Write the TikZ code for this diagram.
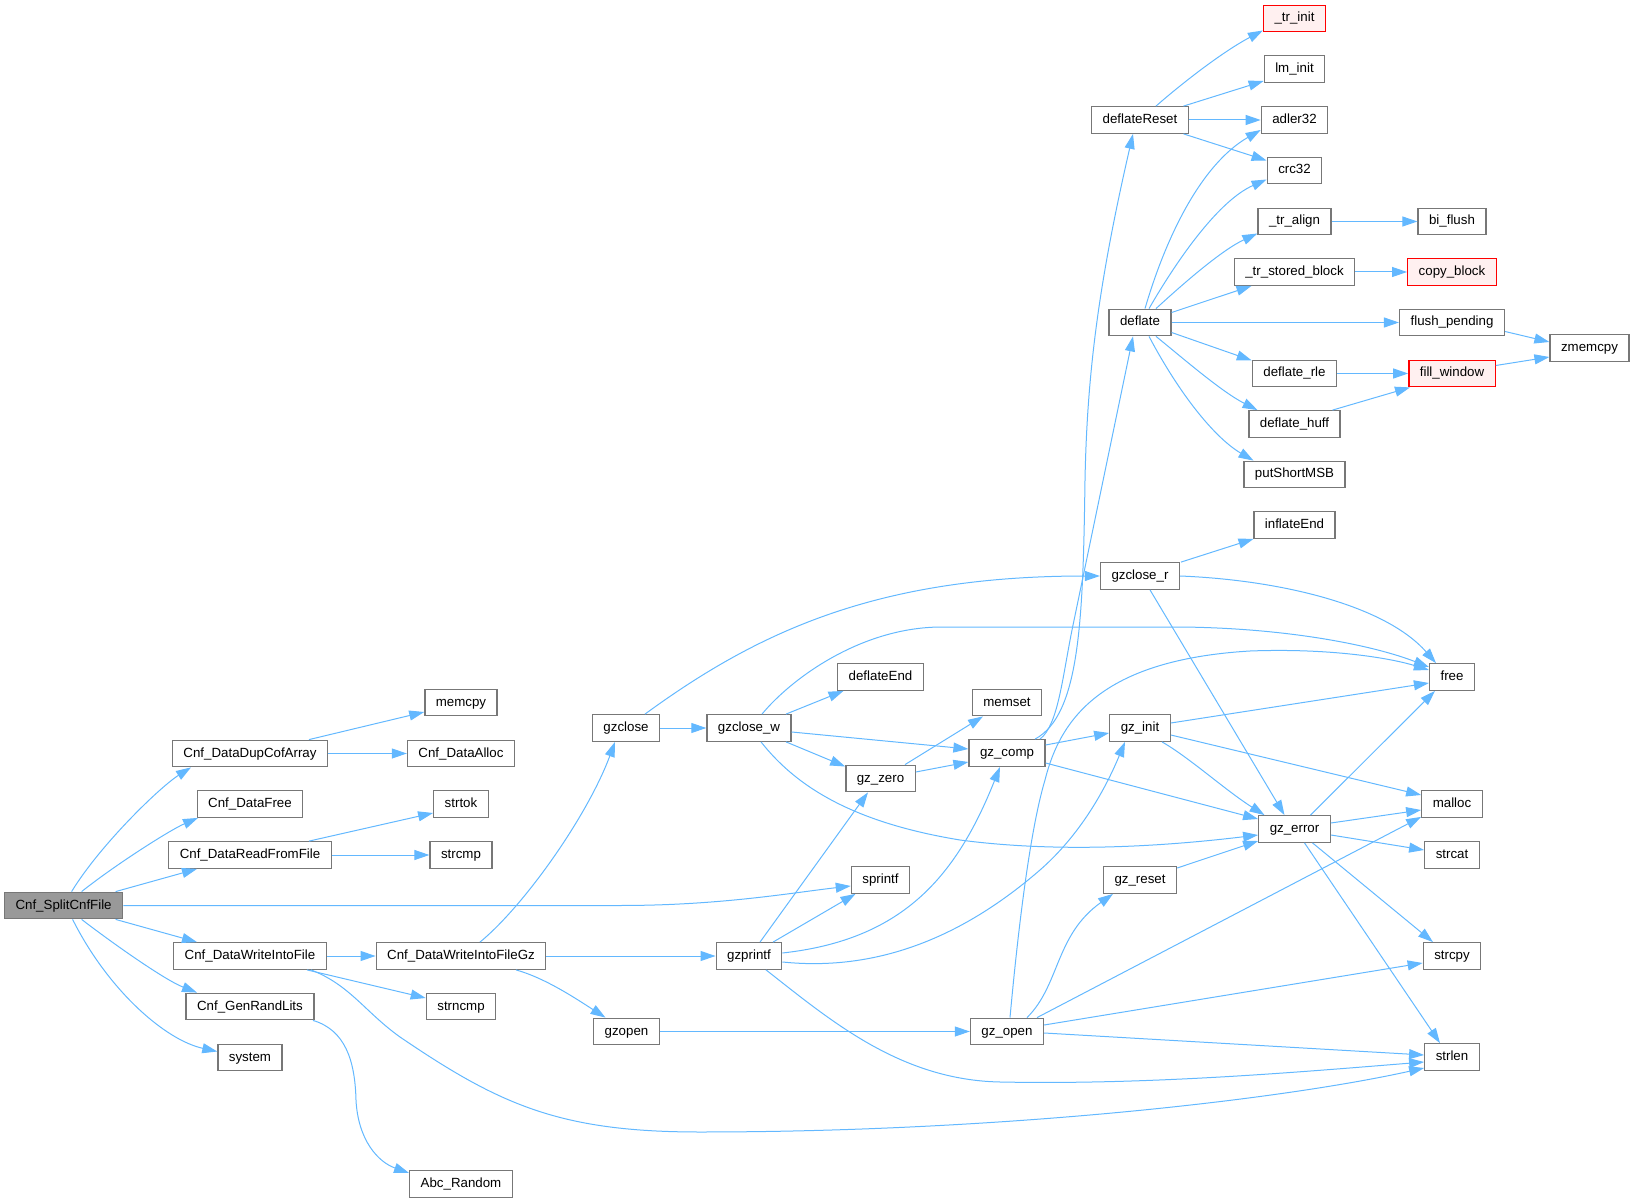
\documentclass[tikz,border=0pt]{standalone}
\usepackage{fontspec}
\setmainfont{Liberation Sans}
\usetikzlibrary{arrows.meta,calc}
\definecolor{edgec}{HTML}{63B8FF}
\definecolor{boxc}{HTML}{777777}
\definecolor{rootc}{HTML}{999999}
\definecolor{redfill}{HTML}{FFF0F0}
\tikzset{
  fn/.style={draw=boxc, line width=0.65pt, fill=white, inner xsep=5.5pt, inner ysep=0pt,
    minimum height=13.25pt, text height=4.9pt, text depth=1.4pt, font=\fontsize{6.65}{8}\selectfont},
  rootfn/.style={fn, fill=rootc},
  redfn/.style={fn, draw=red, fill=redfill},
  calls/.style={draw=edgec, line width=0.5pt, -{Triangle[length=7.5pt,width=5pt]}}
}
\begin{document}
\begin{tikzpicture}[x=0.5pt,y=-0.5pt]
\useasboundingbox (0,0) rectangle (1634,1203);
% nodes
\node[rootfn] (root) at (63.6,905.5) {Cnf\_SplitCnfFile};
\node[fn] (dup) at (250,753.5) {Cnf\_DataDupCofArray};
\node[fn] (free1) at (250,804) {Cnf\_DataFree};
\node[fn] (read) at (250,855) {Cnf\_DataReadFromFile};
\node[fn] (wif) at (250,956) {Cnf\_DataWriteIntoFile};
\node[fn] (grl) at (250,1006.5) {Cnf\_GenRandLits};
\node[fn] (system) at (250,1057.5) {system};
\node[fn] (memcpy) at (461,702.5) {memcpy};
\node[fn] (alloc) at (461,753.5) {Cnf\_DataAlloc};
\node[fn] (strtok) at (461,804) {strtok};
\node[fn] (strcmp) at (461,855) {strcmp};
\node[fn] (wifgz) at (461,956) {Cnf\_DataWriteIntoFileGz};
\node[fn] (strncmp) at (461,1006.5) {strncmp};
\node[fn] (abcrand) at (461,1184) {Abc\_Random};
\node[fn] (gzclose) at (626,728) {gzclose};
\node[fn] (gzopen) at (626.5,1031.5) {gzopen};
\node[fn] (gzclosew) at (749,728) {gzclose\_w};
\node[fn] (gzprintf) at (749,956) {gzprintf};
\node[fn] (deflateEnd) at (880.5,677) {deflateEnd};
\node[fn] (gzzero) at (880.5,778.5) {gz\_zero};
\node[fn] (sprintf) at (880.5,880) {sprintf};
\node[fn] (memset) at (1007,702.5) {memset};
\node[fn] (gzcomp) at (1007,753) {gz\_comp};
\node[fn] (gzopentwo) at (1007,1031.5) {gz\_open};
\node[fn] (deflateReset) at (1140,120) {deflateReset};
\node[fn] (deflate) at (1140,322.5) {deflate};
\node[fn] (gzcloser) at (1140,576) {gzclose\_r};
\node[fn] (gzinit) at (1140,728) {gz\_init};
\node[fn] (gzreset) at (1140,880) {gz\_reset};
\node[redfn] (trinit) at (1294.5,18.5) {\_tr\_init};
\node[fn] (lminit) at (1294.5,69) {lm\_init};
\node[fn] (adler) at (1294.5,120) {adler32};
\node[fn] (crc) at (1294.5,170.5) {crc32};
\node[fn] (tralign) at (1294.5,221.5) {\_tr\_align};
\node[fn] (trstored) at (1294.5,272) {\_tr\_stored\_block};
\node[fn] (deflaterle) at (1294.5,373.5) {deflate\_rle};
\node[fn] (deflatehuff) at (1294.5,424) {deflate\_huff};
\node[fn] (putshort) at (1294.5,474.5) {putShortMSB};
\node[fn] (inflateEnd) at (1294.5,525) {inflateEnd};
\node[fn] (gzerror) at (1294.5,829) {gz\_error};
\node[fn] (biflush) at (1452,221.5) {bi\_flush};
\node[redfn] (copyblock) at (1452,272) {copy\_block};
\node[fn] (flushpending) at (1452,322.5) {flush\_pending};
\node[redfn] (fillwindow) at (1452,373.5) {fill\_window};
\node[fn] (nfree) at (1452,677) {free};
\node[fn] (malloc) at (1452,804) {malloc};
\node[fn] (strcat) at (1452,855) {strcat};
\node[fn] (strcpy) at (1452,956) {strcpy};
\node[fn] (strlen) at (1452,1057) {strlen};
\node[fn] (zmemcpy) at (1589.5,348) {zmemcpy};
% edges from root
\draw[calls] ($(root.north)+(8,0)$) .. controls (100,845) and (160,787) .. ($(dup.south)+(-59,0)$);
\draw[calls] ($(root.north)+(18,0)$) .. controls (115,865) and (170,830) .. ($(free1.south)+(-52,0)$);
\draw[calls] ($(root.north)+(52,0)$) -- ($(read.south)+(-53,0)$);
\draw[calls] (root.east) -- (620,905.5) .. controls (720,905.5) and (790,893) .. ($(sprintf.west)+(0,6)$);
\draw[calls] ($(root.south)+(52,0)$) -- ($(wif.north)+(-53,0)$);
\draw[calls] ($(root.south)+(18,0)$) .. controls (115,945) and (165,980) .. ($(grl.north)+(-53,0)$);
\draw[calls] ($(root.south)+(9,0)$) .. controls (108,990) and (165,1040) .. ($(system.west)+(0,-6)$);
% second column
\draw[calls] ($(dup.north)+(59,0)$) -- ($(memcpy.west)+(0,9.5)$);
\draw[calls] (dup.east) -- (alloc.west);
\draw[calls] ($(read.north)+(59,0)$) -- ($(strtok.west)+(0,9)$);
\draw[calls] (read.east) -- (strcmp.west);
\draw[calls] (wif.east) -- (wifgz.west);
\draw[calls] ($(wif.south)+(57,0)$) -- ($(strncmp.west)+(0,-8.5)$);
\draw[calls] ($(wif.south)+(61,0)$) .. controls (350,985) and (365,1012) .. (400,1037)
  .. controls (500,1105) and (560,1132) .. (700,1132)
  .. controls (1000,1132) and (1280,1100) .. ($(strlen.west)+(0,11)$);
\draw[calls] ($(grl.south)+(63,0)$) .. controls (345,1030) and (355,1060) .. (356,1100)
  .. controls (358,1140) and (378,1162) .. ($(abcrand.west)+(0,-11)$);
% Cnf_DataWriteIntoFileGz
\draw[calls] ($(wifgz.north)+(19,0)$) .. controls (525,905) and (588,815) .. ($(gzclose.south)+(-11,0)$);
\draw[calls] (wifgz.east) -- (gzprintf.west);
\draw[calls] ($(wifgz.south)+(55,0)$) .. controls (545,978) and (575,998) .. ($(gzopen.north)+(-21,0)$);
% gzclose
\draw[calls] (gzclose.east) -- (gzclosew.west);
\draw[calls] ($(gzclose.north)+(19,0)$) .. controls (760,630) and (880,576) .. (gzcloser.west);
% gzclose_w
\draw[calls] ($(gzclosew.north)+(37,0)$) -- ($(deflateEnd.south)+(-37,0)$);
\draw[calls] ($(gzclosew.east)+(0,4)$) -- ($(gzcomp.west)+(0,-4)$);
\draw[calls] ($(gzclosew.south)+(37,0)$) -- ($(gzzero.west)+(0,-12)$);
\draw[calls] ($(gzclosew.north)+(13,0)$) .. controls (790,680) and (860,627) .. (942,627)
  -- (1180,627) .. controls (1290,628) and (1375,646) .. ($(nfree.west)+(0,-10)$);
\draw[calls] ($(gzclosew.south)+(12,0)$) .. controls (795,785) and (850,822) .. (960,840)
  .. controls (1050,852) and (1150,848) .. ($(gzerror.west)+(0,6)$);
% gz_zero
\draw[calls] ($(gzzero.north)+(24.5,0)$) -- ($(memset.south)+(-24,0)$);
\draw[calls] ($(gzzero.east)+(0,-6.5)$) -- ($(gzcomp.west)+(0,9)$);
% gz_comp
\draw[calls] ($(gzcomp.north)+(28,0)$) .. controls (1080,715) and (1083,620) .. (1085,480)
  .. controls (1087,380) and (1097,290) .. ($(deflateReset.south)+(-7,0)$);
\draw[calls] ($(gzcomp.north)+(33,0)$) .. controls (1058,725) and (1062,680) .. (1072,630)
  -- ($(deflate.south)+(-7,0)$);
\draw[calls] ($(gzcomp.east)+(0,-8)$) -- ($(gzinit.west)+(0,5)$);
\draw[calls] ($(gzcomp.east)+(0,10)$) -- ($(gzerror.west)+(0,-10)$);
% gzprintf
\draw[calls] ($(gzprintf.north)+(11,0)$) -- ($(gzzero.south)+(-12.5,0)$);
\draw[calls] ($(gzprintf.north)+(24,0)$) -- ($(sprintf.south)+(-25,0)$);
\draw[calls] ($(gzprintf.east)+(0,-3)$) .. controls (900,940) and (955,880) .. ($(gzcomp.south)+(-7,0)$);
\draw[calls] ($(gzprintf.east)+(0,6)$) .. controls (880,972) and (965,935) .. (1040,870)
  .. controls (1080,835) and (1105,790) .. ($(gzinit.south)+(-15,0)$);
\draw[calls] ($(gzprintf.south)+(17,0)$) .. controls (830,1020) and (900,1080) .. (1000,1082)
  .. controls (1150,1085) and (1300,1072) .. ($(strlen.west)+(0,5)$);
% gzopen / gz_open
\draw[calls] (gzopen.east) -- (gzopentwo.west);
\draw[calls] ($(gzopentwo.north)+(3,0)$) .. controls (1018,930) and (1030,830) .. (1045,780)
  .. controls (1060,720) and (1100,660) .. (1250,651)
  .. controls (1330,648) and (1390,658) .. ($(nfree.west)+(0,-7)$);
\draw[calls] ($(gzopentwo.north)+(20,0)$) .. controls (1060,985) and (1055,935) .. ($(gzreset.south)+(-27,0)$);
\draw[calls] ($(gzopentwo.north)+(30,0)$) -- ($(malloc.south west)+(0,-1)$);
\draw[calls] ($(gzopentwo.east)+(0,-6.5)$) -- ($(strcpy.west)+(0,7)$);
\draw[calls] ($(gzopentwo.east)+(0,1.5)$) -- ($(strlen.west)+(0,-2)$);
% gz_reset, gz_init, gzclose_r
\draw[calls] ($(gzreset.east)+(0,-12)$) -- ($(gzerror.west)+(0,12)$);
\draw[calls] ($(gzinit.east)+(0,-5)$) -- ($(nfree.west)+(0,6)$);
\draw[calls] ($(gzinit.east)+(0,7)$) -- ($(malloc.west)+(0,-9)$);
\draw[calls] ($(gzinit.south)+(22,0)$) .. controls (1190,758) and (1225,790) .. ($(gzerror.north)+(-30,0)$);
\draw[calls] ($(gzcloser.north)+(41,0)$) -- ($(inflateEnd.south)+(-41,0)$);
\draw[calls] (gzcloser.east) .. controls (1280,580) and (1385,605) .. ($(nfree.north)+(-16,0)$);
\draw[calls] ($(gzcloser.south)+(10,0)$) -- ($(gzerror.north)+(-10,0)$);
% gz_error
\draw[calls] ($(gzerror.north)+(16,0)$) -- ($(nfree.south)+(-17,0)$);
\draw[calls] ($(gzerror.east)+(0,-6)$) -- ($(malloc.west)+(0,6)$);
\draw[calls] ($(gzerror.east)+(0,6)$) -- ($(strcat.west)+(0,-5)$);
\draw[calls] ($(gzerror.south)+(18,0)$) -- ($(strcpy.north)+(-19,0)$);
\draw[calls] ($(gzerror.south)+(10,0)$) -- ($(strlen.north)+(-12,0)$);
% deflateReset
\draw[calls] ($(deflateReset.north)+(16,0)$) .. controls (1180,85) and (1222,52) .. ($(trinit.west)+(0,12)$);
\draw[calls] ($(deflateReset.north)+(43.5,0)$) -- ($(lminit.west)+(0,12)$);
\draw[calls] (deflateReset.east) -- (adler.west);
\draw[calls] ($(deflateReset.south)+(43.5,0)$) -- ($(crc.west)+(0,-10)$);
% deflate
\draw[calls] ($(deflate.north)+(5,0)$) .. controls (1165,240) and (1200,165) .. ($(adler.west)+(0,10)$);
\draw[calls] ($(deflate.north)+(9,0)$) .. controls (1180,255) and (1220,200) .. ($(crc.west)+(0,9)$);
\draw[calls] ($(deflate.north)+(16,0)$) .. controls (1185,282) and (1222,250) .. ($(tralign.west)+(0,12)$);
\draw[calls] ($(deflate.east)+(0,-10)$) -- ($(trstored.south)+(-43,0)$);
\draw[calls] (deflate.east) -- (flushpending.west);
\draw[calls] ($(deflate.east)+(0,10)$) -- ($(deflaterle.west)+(0,-13)$);
\draw[calls] ($(deflate.south)+(16,0)$) .. controls (1185,360) and (1222,392) .. ($(deflatehuff.north)+(-37,0)$);
\draw[calls] ($(deflate.south)+(9,0)$) .. controls (1180,395) and (1215,438) .. ($(putshort.north)+(-41,0)$);
% right part
\draw[calls] (tralign.east) -- (biflush.west);
\draw[calls] (trstored.east) -- (copyblock.west);
\draw[calls] ($(flushpending.east)+(0,9)$) -- ($(zmemcpy.west)+(0,-6)$);
\draw[calls] (deflaterle.east) -- (fillwindow.west);
\draw[calls] ($(deflatehuff.north)+(38,0)$) -- ($(fillwindow.south)+(-42,0)$);
\draw[calls] ($(fillwindow.east)+(0,-8)$) -- ($(zmemcpy.west)+(0,9)$);
\end{tikzpicture}
\end{document}
